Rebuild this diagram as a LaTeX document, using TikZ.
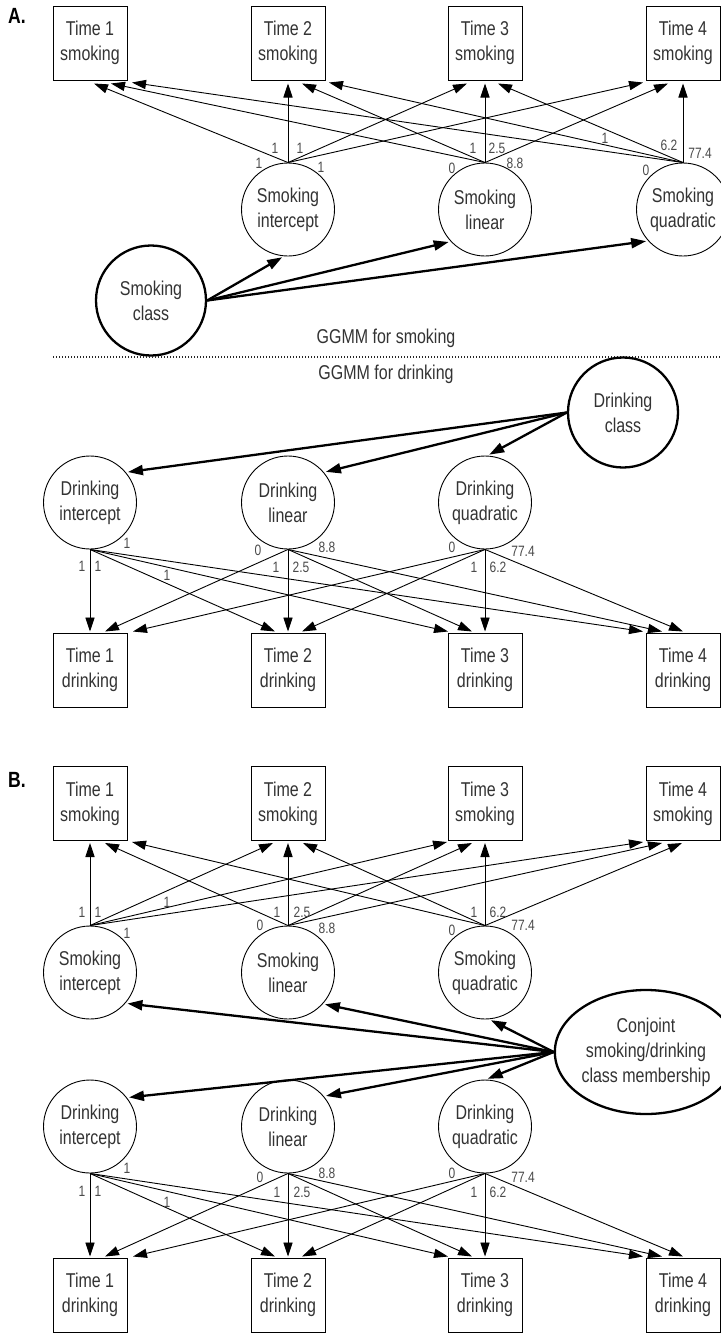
\documentclass[tikz,border=0pt]{standalone}
\usepackage{fontspec}
\setmainfont{Liberation Sans}[FakeStretch=0.8]
\usetikzlibrary{arrows.meta,calc,shapes.geometric}
\definecolor{txt}{HTML}{333333}
\definecolor{labc}{HTML}{4A4A4A}
\newcommand{\dgnf}{\fontsize{10}{12.5}\selectfont}
\newcommand{\dglf}{\fontsize{7.5}{9}\selectfont}
\newcommand{\dgpf}{\fontsize{11}{12}\selectfont\bfseries}
\begin{document}
\begin{tikzpicture}[x=0.5pt,y=-0.5pt,
  box/.style={draw, line width=0.5pt, minimum width=37pt, minimum height=37pt, inner sep=0pt, align=center, font=\dgnf, text=txt},
  fac/.style={draw, circle, line width=0.45pt, minimum size=46.5pt, inner sep=0pt, align=center, font=\dgnf, text=txt},
  cls/.style={draw, circle, line width=1.15pt, minimum size=55pt, inner sep=0pt, align=center, font=\dgnf, text=txt},
  cjs/.style={draw, ellipse, line width=1.15pt, minimum width=84pt, minimum height=62pt, inner sep=0pt, align=center, font=\dgnf, text=txt},
  thinarr/.style={line width=0.45pt, -{Triangle[length=7pt,width=4.6pt]}},
  thickarr/.style={line width=1.15pt, -{Triangle[length=7.5pt,width=5pt]}, shorten >=1pt},
  lab/.style={font=\dglf, text=labc, inner sep=0pt},
  ttl/.style={font=\dgnf, text=txt, inner sep=0pt},
  pnl/.style={font=\dgpf, inner sep=0pt},
]
\useasboundingbox (0,0) rectangle (720,1333);

% ---------------- Panel A ----------------
\node[pnl] (pA) at (17,16) {A.};
\node[box] (ts1) at (90,43) {Time 1\\smoking};
\node[box] (ts2) at (288,43) {Time 2\\smoking};
\node[box] (ts3) at (485,43) {Time 3\\smoking};
\node[box] (ts4) at (683,43) {Time 4\\smoking};

\node[fac] (si) at (288,209.5) {Smoking\\intercept};
\node[fac] (sl) at (485,209.5) {Smoking\\linear};
\node[fac] (sq) at (683,209.5) {Smoking\\quadratic};

\node[cls] (sc) at (151,300.5) {Smoking\\class};

\node[ttl] (gs) at (386,338) {GGMM for smoking};
\coordinate (dvl) at (53,357);
\coordinate (dvr) at (720,357);
\draw[line width=0.7pt, dash pattern=on 0.7pt off 0.8pt, draw=black!85] (dvl) -- (dvr);
\node[ttl] (gd) at (386,374) {GGMM for drinking};

\node[cls] (dc) at (623,412.5) {Drinking\\class};

\node[fac] (di) at (90,502.5) {Drinking\\intercept};
\node[fac] (dl) at (288,502.5) {Drinking\\linear};
\node[fac] (dq) at (485,502.5) {Drinking\\quadratic};

\node[box] (td1) at (90,670) {Time 1\\drinking};
\node[box] (td2) at (288,670) {Time 2\\drinking};
\node[box] (td3) at (485,670) {Time 3\\drinking};
\node[box] (td4) at (683,670) {Time 4\\drinking};

% smoking loadings (A)
\draw[thinarr] (si.north) -- ($(ts1.south)+(4,3)$);
\draw[thinarr] (sl.north) -- ($(ts1.south)+(21,3)$);
\draw[thinarr] (sq.north) -- ($(ts1.south)+(42,2)$);
\draw[thinarr] (si.north) -- ($(ts2.south)+(0,3)$);
\draw[thinarr] (sl.north) -- ($(ts2.south)+(14,3)$);
\draw[thinarr] (sq.north) -- ($(ts2.south)+(41,2)$);
\draw[thinarr] (si.north) -- ($(ts3.south)+(-18,3)$);
\draw[thinarr] (sl.north) -- ($(ts3.south)+(0,3)$);
\draw[thinarr] (sq.north) -- ($(ts3.south)+(13,3)$);
\draw[thinarr] (si.north) -- ($(ts4.south)+(-40,2)$);
\draw[thinarr] (sl.north) -- ($(ts4.south)+(-15,3)$);
\draw[thinarr] (sq.north) -- ($(ts4.south)+(0,3)$);

% drinking loadings (A)
\draw[thinarr] (di.south) -- ($(td1.north)+(0,-1)$);
\draw[thinarr] (dl.south) -- ($(td1.north)+(15,-1)$);
\draw[thinarr] (dq.south) -- ($(td1.north)+(43,-1)$);
\draw[thinarr] (di.south) -- ($(td2.north)+(-13,-1)$);
\draw[thinarr] (dl.south) -- ($(td2.north)+(0,-1)$);
\draw[thinarr] (dq.south) -- ($(td2.north)+(14,-1)$);
\draw[thinarr] (di.south) -- ($(td3.north)+(-37,-1)$);
\draw[thinarr] (dl.south) -- ($(td3.north)+(-13,-1)$);
\draw[thinarr] (dq.south) -- ($(td3.north)+(0,-1)$);
\draw[thinarr] (di.south) -- ($(td4.north)+(-40,-1)$);
\draw[thinarr] (dl.south) -- ($(td4.north)+(-21,-1)$);
\draw[thinarr] (dq.south) -- ($(td4.north)+(0,-1)$);

% class arrows (A)
\draw[thickarr] (sc.east) -- (si.265);
\draw[thickarr] (sc.east) -- (sl.223);
\draw[thickarr] (sc.east) -- (sq.222);
\draw[thickarr] (dc.west) -- (di.40);
\draw[thickarr] (dc.west) -- (dl.40);
\draw[thickarr] (dc.west) -- (dq.87);

% labels A smoking
\node[lab] (a1) at (259,163) {1};
\node[lab] (a2) at (275,148) {1};
\node[lab] (a3) at (300,148) {1};
\node[lab] (a4) at (321,167) {1};
\node[lab] (a5) at (452,168) {0};
\node[lab] (a6) at (473,148) {1};
\node[lab] (a7) at (497,148) {2.5};
\node[lab] (a8) at (515,163) {8.8};
\node[lab] (a9) at (646,170) {0};
\node[lab] (a10) at (605,138) {1};
\node[lab] (a11) at (669,145) {6.2};
\node[lab] (a12) at (700,153) {77.4};
% labels A drinking
\node[lab] (a13) at (127,543) {1};
\node[lab] (a14) at (82,566) {1};
\node[lab] (a15) at (98,566) {1};
\node[lab] (a16) at (167,575) {1};
\node[lab] (a17) at (258,550) {0};
\node[lab] (a18) at (327,547) {8.8};
\node[lab] (a19) at (276,567) {1};
\node[lab] (a20) at (301,567) {2.5};
\node[lab] (a21) at (452,547) {0};
\node[lab] (a22) at (523,551) {77.4};
\node[lab] (a23) at (474,567) {1};
\node[lab] (a24) at (498,567) {6.2};

% ---------------- Panel B ----------------
\node[pnl] (pB) at (17,780) {B.};
\node[box] (bts1) at (90,803.5) {Time 1\\smoking};
\node[box] (bts2) at (288,803.5) {Time 2\\smoking};
\node[box] (bts3) at (485,803.5) {Time 3\\smoking};
\node[box] (bts4) at (683,803.5) {Time 4\\smoking};

\node[fac] (bsi) at (90,972.5) {Smoking\\intercept};
\node[fac] (bsl) at (288,972.5) {Smoking\\linear};
\node[fac] (bsq) at (485,972.5) {Smoking\\quadratic};

\node[cjs] (cj) at (646,1052) {Conjoint\\smoking/drinking\\class membership};

\node[fac] (bdi) at (90,1126.5) {Drinking\\intercept};
\node[fac] (bdl) at (288,1126.5) {Drinking\\linear};
\node[fac] (bdq) at (485,1126.5) {Drinking\\quadratic};

\node[box] (btd1) at (90,1295) {Time 1\\drinking};
\node[box] (btd2) at (288,1295) {Time 2\\drinking};
\node[box] (btd3) at (485,1295) {Time 3\\drinking};
\node[box] (btd4) at (683,1295) {Time 4\\drinking};

% smoking loadings (B)
\draw[thinarr] (bsi.north) -- ($(bts1.south)+(0,2)$);
\draw[thinarr] (bsl.north) -- ($(bts1.south)+(15,2)$);
\draw[thinarr] (bsq.north) -- ($(bts1.south)+(42,1)$);
\draw[thinarr] (bsi.north) -- ($(bts2.south)+(-15,2)$);
\draw[thinarr] (bsl.north) -- ($(bts2.south)+(0,2)$);
\draw[thinarr] (bsq.north) -- ($(bts2.south)+(15,2)$);
\draw[thinarr] (bsi.north) -- ($(bts3.south)+(-38,1)$);
\draw[thinarr] (bsl.north) -- ($(bts3.south)+(-13,2)$);
\draw[thinarr] (bsq.north) -- ($(bts3.south)+(0,2)$);
\draw[thinarr] (bsi.north) -- ($(bts4.south)+(-40,1)$);
\draw[thinarr] (bsl.north) -- ($(bts4.south)+(-21,2)$);
\draw[thinarr] (bsq.north) -- ($(bts4.south)+(-1,2)$);

% drinking loadings (B)
\draw[thinarr] (bdi.south) -- ($(btd1.north)+(0,-1)$);
\draw[thinarr] (bdl.south) -- ($(btd1.north)+(15,-1)$);
\draw[thinarr] (bdq.south) -- ($(btd1.north)+(43,-1)$);
\draw[thinarr] (bdi.south) -- ($(btd2.north)+(-13,-1)$);
\draw[thinarr] (bdl.south) -- ($(btd2.north)+(0,-1)$);
\draw[thinarr] (bdq.south) -- ($(btd2.north)+(14,-1)$);
\draw[thinarr] (bdi.south) -- ($(btd3.north)+(-37,-1)$);
\draw[thinarr] (bdl.south) -- ($(btd3.north)+(-13,-1)$);
\draw[thinarr] (bdq.south) -- ($(btd3.north)+(0,-1)$);
\draw[thinarr] (bdi.south) -- ($(btd4.north)+(-40,-1)$);
\draw[thinarr] (bdl.south) -- ($(btd4.north)+(-21,-1)$);
\draw[thinarr] (bdq.south) -- ($(btd4.north)+(0,-1)$);

% class arrows (B)
\draw[thickarr] (cj.west) -- (bsi.-41);
\draw[thickarr] (cj.west) -- (bsl.-42);
\draw[thickarr] (cj.west) -- (bsq.-85);
\draw[thickarr] (cj.west) -- (bdi.38);
\draw[thickarr] (cj.west) -- (bdl.40);
\draw[thickarr] (cj.west) -- (bdq.89);

% labels B smoking
\node[lab] (b1) at (82,912) {1};
\node[lab] (b2) at (98,912) {1};
\node[lab] (b3) at (167,902) {1};
\node[lab] (b4) at (127,933) {1};
\node[lab] (b5) at (260,925) {0};
\node[lab] (b6) at (277,912) {1};
\node[lab] (b7) at (302,912) {2.5};
\node[lab] (b8) at (327,928) {8.8};
\node[lab] (b9) at (452,930) {0};
\node[lab] (b10) at (474,912) {1};
\node[lab] (b11) at (498,912) {6.2};
\node[lab] (b12) at (523,925) {77.4};
% labels B drinking
\node[lab] (b13) at (127,1168) {1};
\node[lab] (b14) at (82,1191) {1};
\node[lab] (b15) at (98,1191) {1};
\node[lab] (b16) at (167,1202) {1};
\node[lab] (b17) at (260,1177) {0};
\node[lab] (b18) at (327,1173) {8.8};
\node[lab] (b19) at (277,1192) {1};
\node[lab] (b20) at (302,1192) {2.5};
\node[lab] (b21) at (452,1173) {0};
\node[lab] (b22) at (523,1177) {77.4};
\node[lab] (b23) at (474,1192) {1};
\node[lab] (b24) at (498,1192) {6.2};
\end{tikzpicture}
\end{document}
